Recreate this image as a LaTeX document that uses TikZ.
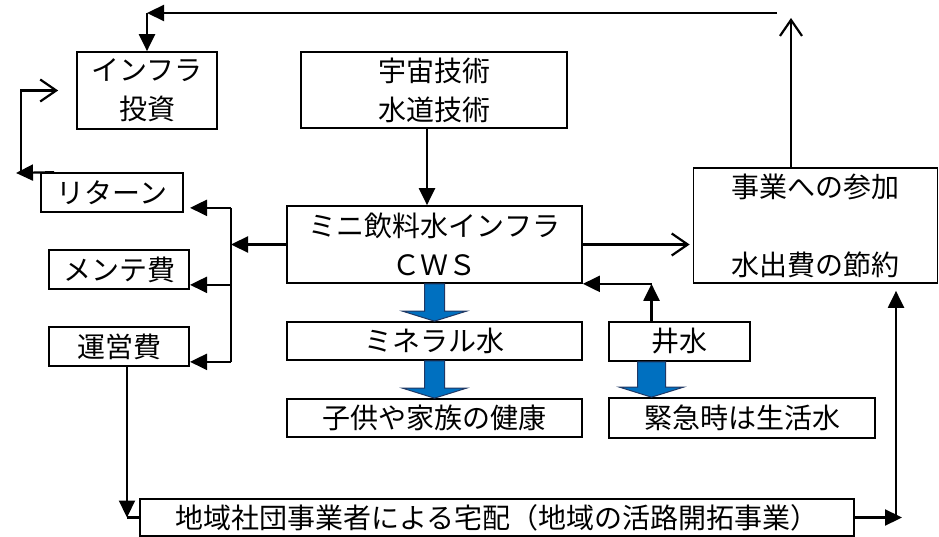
\documentclass[tikz,border=0pt]{standalone}
\usepackage{fontspec}
\setmainfont{Noto Sans CJK JP}
\usetikzlibrary{calc}
\usetikzlibrary{arrows.meta}
\usepackage{xcolor}
\definecolor{flowblue}{RGB}{0,112,192}
\definecolor{flowedge}{RGB}{32,56,100}

% 青い太矢印 (始点, 終点, 軸の半幅)
\newcommand{\flowarrow}[3]{%
    \draw[blue_flow] ($(#1)+(-#3,0)$) -- ($(#1)+(#3,0)$) -- ($(#2)+(#3,-10)$) -- ($(#2)+(32,-10)$)
        -- (#2) -- ($(#2)+(-32,-10)$) -- ($(#2)+(-#3,-10)$) -- cycle;}

\begin{document}
\begin{tikzpicture}[x=1pt, y=-1pt]
        % ================= スタイル定義 =================
        \tikzset{
            % 白地黒枠の箱
            wbox/.style={draw=black, line width=1.7pt, fill=white, inner sep=0pt, align=center, font=\fontsize{28}{39}\selectfont},
            % 塗りつぶし矢印
            solid_arrow/.style={line width=2.2pt, -{Triangle[length=17pt,width=16pt]}},
            % 開いた矢印
            open_arrow/.style={line width=2.2pt, -{Straight Barb[length=16pt,width=22pt,line width=2.2pt]}},
            plain_line/.style={line width=2.2pt},
            % 青い太矢印
            blue_flow/.style={fill=flowblue, draw=flowedge, line width=1pt, line join=miter}
        }
        \useasboundingbox (0,0) rectangle (939,537);

        % ================= 箱 =================
        \node[wbox, minimum width=140, minimum height=77] (infra) at (147,90.5) {インフラ\\投資};
        \node[wbox, minimum width=266, minimum height=76] (tech) at (434,90) {宇宙技術\\水道技術};
        \node[wbox, minimum width=142, minimum height=39] (ret) at (112,192.5) {リターン};
        \node[wbox, minimum width=140, minimum height=39] (maint) at (119,269.5) {メンテ費};
        \node[wbox, minimum width=140, minimum height=39] (opex) at (119,346.5) {運営費};
        \node[wbox, minimum width=295, minimum height=77] (cws) at (434.5,244.5) {ミニ飲料水インフラ\\ＣＷＳ};
        \node[wbox, minimum width=295, minimum height=38] (mineral) at (434.5,341) {ミネラル水};
        \node[wbox, minimum width=295, minimum height=38] (health) at (434.5,418) {子供や家族の健康};
        \node[wbox, minimum width=141, minimum height=39] (well) at (679.5,341.5) {井水};
        \node[wbox, minimum width=266, minimum height=40] (emerg) at (742,418) {緊急時は生活水};
        \node[wbox, minimum width=244, minimum height=115] (biz) at (815.5,225.5) {事業への参加\\[39pt]水出費の節約};
        \node[wbox, minimum width=714, minimum height=37] (deliv) at (497,517.5) {地域社団事業者による宅配（地域の活路開拓事業）};

        % ================= 補助点 =================
        \coordinate (techOut) at ([xshift=-7pt]tech.south);
        \coordinate (wellUp) at ([xshift=-28pt]well.north);
        \coordinate (wellDown) at ([xshift=-28pt]well.south);
        \coordinate (bus) at (231,0);
        \coordinate (tipx) at (190,0);
        \coordinate (retTip) at (16,173);
        \coordinate (loopBase) at (21,173);
        \coordinate (topEnd) at (777,13);
        \coordinate (topUp) at (791,18);
        \coordinate (bizIn) at (cws.east -| biz.west);
        \coordinate (opexOut) at ([xshift=8pt]opex.south);
        \coordinate (rbus) at (896,0);
        \coordinate (rTip) at (902,0);
        \coordinate (bizBelow) at ($(biz.south)+(0,7)$);

        % ================= 青い太矢印 =================
        \coordinate (minTop) at (cws.south |- mineral.north);
        \coordinate (healthTop) at (mineral.south |- health.north);
        \coordinate (emTop) at (wellDown |- emerg.north);
        \flowarrow{cws.south}{minTop}{10}
        \flowarrow{mineral.south}{healthTop}{10}
        \flowarrow{wellDown}{emTop}{14}

        % ================= 黒い矢印 =================
        \draw[solid_arrow] (techOut) -- (techOut |- cws.north);
        \draw[open_arrow, shorten >=3pt] (cws.east) -- (bizIn);
        \draw[solid_arrow] (wellUp) -- (wellUp |- cws.south);
        \draw[solid_arrow] (wellUp |- cws.south) -- (cws.south east);

        % 左側の分岐
        \draw[solid_arrow] (cws.west) -- (cws.west -| bus);
        \foreach \n in {ret, maint, opex} {
            \coordinate (\n_in) at ($(\n.south east)+(0,-5)$);
            \draw[solid_arrow] (bus |- \n_in) -- (tipx |- \n_in);
        }
        \draw[plain_line] (bus |- ret_in) -- (bus |- opex_in);

        % リターンから投資へ
        \draw[solid_arrow] ([xshift=14pt]ret.north west) -- (retTip);
        \draw[open_arrow] (loopBase) |- ([xshift=-18pt]infra.west);

        % 上の戻り
        \draw[open_arrow] (biz.north -| topUp) -- (topUp);
        \draw[solid_arrow] (topEnd) -- (infra.north |- topEnd);
        \draw[solid_arrow] (infra.north |- topEnd) -- (infra.north);

        % 下の宅配
        \draw[solid_arrow] (opexOut) -- (opexOut |- deliv.west);
        \draw[plain_line] (opexOut |- deliv.west) -- (deliv.west);
        \draw[solid_arrow] (deliv.east) -- (rTip |- deliv.east);
        \draw[solid_arrow] (rbus |- deliv.east) -- (rbus |- bizBelow);

\end{tikzpicture}
\end{document}
